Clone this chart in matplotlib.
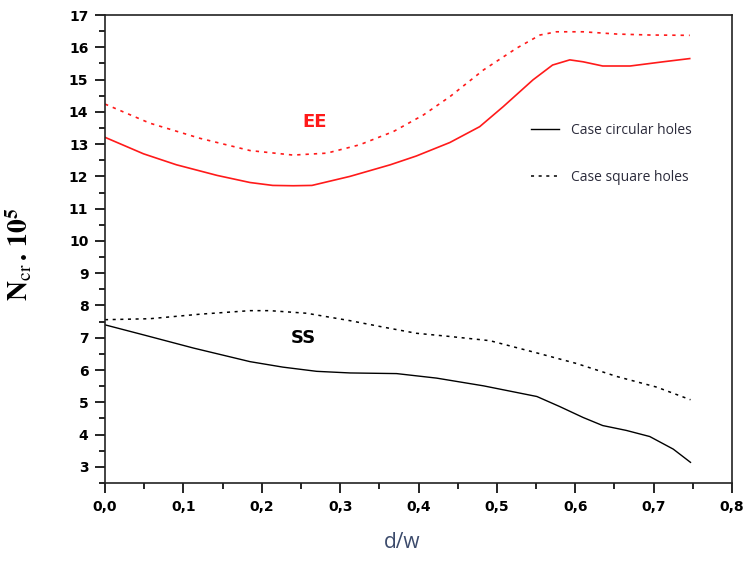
"""Critical load N_cr vs hole ratio d/w for EE and SS plates."""

import matplotlib

matplotlib.use("Agg")
import matplotlib.pyplot as plt  # noqa: E402
from matplotlib.lines import Line2D  # noqa: E402
from matplotlib.ticker import FuncFormatter, MultipleLocator  # noqa: E402

plt.rcParams["mathtext.fontset"] = "stix"

# EE, circular holes
ee_circ_x = [0.0, 0.049, 0.091, 0.143, 0.185, 0.214, 0.24, 0.264, 0.3125, 0.364, 0.397,
             0.44, 0.478, 0.508, 0.546, 0.571, 0.593, 0.61, 0.635, 0.67, 0.712, 0.746]
ee_circ_y = [13.21, 12.70, 12.36, 12.03, 11.81, 11.72, 11.71, 11.72, 12.0, 12.36, 12.63,
             13.05, 13.54, 14.16, 14.99, 15.45, 15.61, 15.55, 15.42, 15.42, 15.55, 15.65]

# EE, square holes
ee_sq_x = [0.0, 0.057, 0.121, 0.185, 0.24, 0.283, 0.325, 0.368, 0.406, 0.44, 0.483,
           0.525, 0.555, 0.576, 0.61, 0.653, 0.695, 0.746]
ee_sq_y = [14.24, 13.65, 13.18, 12.80, 12.66, 12.72, 12.98, 13.39, 13.90, 14.47, 15.30,
           15.97, 16.38, 16.48, 16.48, 16.41, 16.38, 16.37]

# SS, circular holes
ss_circ_x = [0.0, 0.049, 0.113, 0.185, 0.227, 0.27, 0.3125, 0.372, 0.423, 0.483, 0.551,
             0.58, 0.61, 0.635, 0.665, 0.695, 0.725, 0.747]
ss_circ_y = [7.40, 7.09, 6.68, 6.26, 6.09, 5.96, 5.91, 5.89, 5.75, 5.51, 5.18,
             4.87, 4.53, 4.28, 4.13, 3.94, 3.55, 3.14]

# SS, square holes
ss_sq_x = [0.0, 0.057, 0.121, 0.185, 0.21, 0.257, 0.3125, 0.355, 0.397, 0.44, 0.491,
           0.551, 0.602, 0.653, 0.704, 0.747]
ss_sq_y = [7.56, 7.59, 7.73, 7.84, 7.84, 7.76, 7.53, 7.33, 7.14, 7.04, 6.91,
           6.53, 6.20, 5.80, 5.47, 5.08]

legend_labels = ["Case circular holes", "Case square holes"]

RED = "#ff1a1a"
DOT = (0, (2, 3))

fig = plt.figure(figsize=(7.45, 5.64), dpi=100)
ax = fig.add_axes([0.141, 0.1436, 0.8416, 0.8298])

ax.plot(ee_circ_x, ee_circ_y, color=RED, lw=1.2)
ax.plot(ee_sq_x, ee_sq_y, color=RED, lw=1.2, ls=DOT)
ax.plot(ss_circ_x, ss_circ_y, color="black", lw=1.0)
ax.plot(ss_sq_x, ss_sq_y, color="black", lw=1.1, ls=DOT)

ax.text(0.268, 13.69, "EE", color=RED, fontsize=13, fontweight="bold", ha="center", va="center")
ax.text(0.253, 7.0, "SS", color="black", fontsize=13, fontweight="bold", ha="center", va="center")

handles = [Line2D([], [], color="black", lw=1.0),
           Line2D([], [], color="black", lw=1.1, ls=DOT)]
ax.legend(handles, legend_labels, loc="center left", bbox_to_anchor=(0.668, 0.704),
          frameon=False, borderpad=0, labelspacing=2.3, handlelength=2.0,
          handletextpad=0.9, prop={"family": "Open Sans", "size": 10},
          labelcolor="#2b2b3b")

ax.set_xlim(0, 0.8)
ax.set_ylim(2.5, 17)
ax.xaxis.set_major_locator(MultipleLocator(0.1))
ax.xaxis.set_minor_locator(MultipleLocator(0.05))
ax.yaxis.set_major_locator(MultipleLocator(1))
ax.yaxis.set_minor_locator(MultipleLocator(0.5))
ax.set_yticks(range(3, 18))
ax.xaxis.set_major_formatter(FuncFormatter(lambda v, p: f"{v:.1f}".replace(".", ",")))

ax.tick_params(which="major", direction="out", length=7, width=1.2, pad=5,
               labelsize=10, top=False, right=False)
ax.tick_params(which="minor", direction="out", length=4.5, width=1.2, top=False, right=False)
for lab in ax.get_xticklabels() + ax.get_yticklabels():
    lab.set_fontweight("bold")
for sp in ax.spines.values():
    sp.set_linewidth(1.2)
    sp.set_color("#222222")

ax.set_xlabel("d/w", family="Open Sans", fontsize=15, color="#3b4a6b")
ax.xaxis.set_label_coords(0.474, -0.105)
ax.set_ylabel(r"$\mathbf{N}_{\mathrm{cr}}\mathbf{\,.\,10}^{\mathbf{5}}$", fontsize=20)
ax.yaxis.set_label_coords(-0.112, 0.49)

fig.savefig("out.png", dpi=100)
